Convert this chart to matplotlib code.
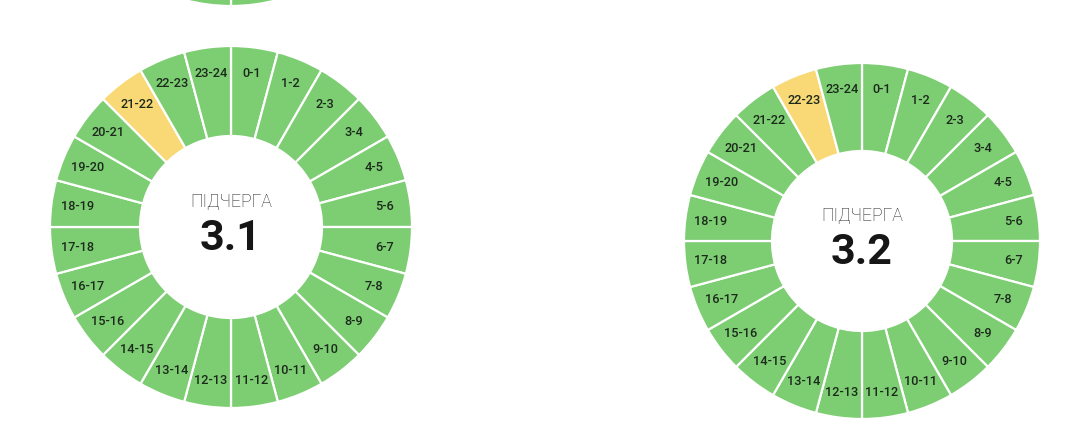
import matplotlib
matplotlib.use('Agg')
from matplotlib import pyplot as plt

plt.rcParams['font.family'] = ['Roboto', 'DejaVu Sans']

# Hour slots, clockwise from the top
hours = ['0-1', '1-2', '2-3', '3-4', '4-5', '5-6', '6-7', '7-8', '8-9', '9-10',
         '10-11', '11-12', '12-13', '13-14', '14-15', '15-16', '16-17', '17-18',
         '18-19', '19-20', '20-21', '21-22', '22-23', '23-24']
slot_size = [1] * 24

# Queue names and the slot that is marked yellow (possible outage)
queues = ['3.1', '3.2']
outage_slot_31 = ['21-22']
outage_slot_32 = ['22-23']

GREEN = '#7dcd73'
YELLOW = '#f9d876'

W, H = 1076, 437
fig = plt.figure(figsize=(W / 100, H / 100), dpi=100)
ax = fig.add_axes([0, 0, 1, 1])


def draw_donut(ax, cx, cy, r_out, r_in, outage, title=None, labels=True):
    colors = [YELLOW if h in outage else GREEN for h in hours]
    wedges, texts = ax.pie(
        slot_size, colors=colors, startangle=90, counterclock=False,
        center=(cx, H - cy), radius=r_out,
        labels=hours if labels else None, labeldistance=0.856,
        textprops=dict(fontsize=9.2, fontweight='medium', color='#1c2a1c'),
        wedgeprops=dict(width=r_out - r_in, edgecolor='white', linewidth=1.6),
        frame=True)
    for t in texts:
        t.set_ha('center')
        t.set_va('center')
    if title is not None:
        ax.text(cx, H - cy + 25, 'ПІДЧЕРГА', ha='center', va='center',
                fontsize=12.8, fontweight='light', color='#1e1e1e')
        ax.text(cx, H - cy - 11, title, ha='center', va='center',
                fontsize=31, fontweight='bold', color='#161616')


# previous queue, cut off at the top of the screenshot
draw_donut(ax, 231, -174, 180, 90, [], labels=False)
draw_donut(ax, 231, 227, 181, 91, outage_slot_31, title=queues[0])
draw_donut(ax, 862, 241, 178, 90, outage_slot_32, title=queues[1])

ax.set_xlim(0, W)
ax.set_ylim(0, H)
ax.set_aspect('equal')
ax.axis('off')

fig.savefig('out.png', dpi=100, facecolor='white')
